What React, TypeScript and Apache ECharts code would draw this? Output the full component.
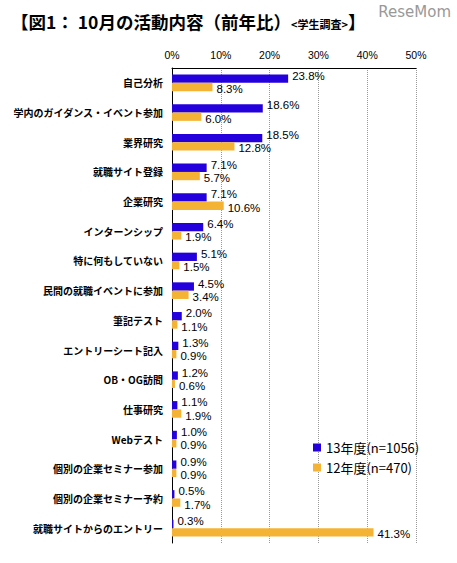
import React, { useRef, useEffect } from 'react';
import * as echarts from 'echarts';

const categories = [
  '自己分析',
  '学内のガイダンス・イベント参加',
  '業界研究',
  '就職サイト登録',
  '企業研究',
  'インターンシップ',
  '特に何もしていない',
  '民間の就職イベントに参加',
  '筆記テスト',
  'エントリーシート記入',
  'OB・OG訪問',
  '仕事研究',
  'Webテスト',
  '個別の企業セミナー参加',
  '個別の企業セミナー予約',
  '就職サイトからのエントリー',
];

const values13 = [23.8, 18.6, 18.5, 7.1, 7.1, 6.4, 5.1, 4.5, 2.0, 1.3, 1.2, 1.1, 1.0, 0.9, 0.5, 0.3];
const values12 = [8.3, 6.0, 12.8, 5.7, 10.6, 1.9, 1.5, 3.4, 1.1, 0.9, 0.6, 1.9, 0.9, 0.9, 1.7, 41.3];

const seriesNames = ['13年度(n=1056)', '12年度(n=470)'];

const FONT = '"Noto Sans CJK JP", "Liberation Sans", sans-serif';

const App: React.FC = () => {
  const chartRef = useRef<HTMLDivElement>(null);

  useEffect(() => {
    document.body.style.margin = '0';
    if (!chartRef.current) return;
    const chart = echarts.init(chartRef.current, undefined, { renderer: 'svg' });

    const option: echarts.EChartsOption = {
      animation: false,
      backgroundColor: '#fff',
      textStyle: { fontFamily: FONT },
      title: {
        text: '{a|【図1： 10月の活動内容（前年比）}{b|<学生調査>}{a|】}',
        left: 6,
        top: 8,
        textStyle: {
          rich: {
            a: { fontSize: 17.5, fontWeight: 'bold', color: '#000', fontFamily: FONT },
            b: { fontSize: 11, fontWeight: 'bold', color: '#000', fontFamily: FONT, padding: [4, 0, 0, 0] },
          },
        },
      },
      graphic: [
        {
          type: 'text',
          right: 6,
          top: 4,
          style: { text: 'ReseMom', fontSize: 15, fill: '#999', fontFamily: '"DejaVu Sans", sans-serif' },
        },
      ],
      legend: {
        orient: 'vertical',
        left: 308,
        top: 436,
        itemWidth: 8,
        itemHeight: 8,
        itemGap: 7,
        icon: 'rect',
        textStyle: { fontSize: 13, color: '#000', fontFamily: FONT },
        data: seriesNames,
      },
      grid: { left: 172, right: 41, top: 68, bottom: 20 },
      xAxis: {
        type: 'value',
        position: 'top',
        min: 0,
        max: 50,
        interval: 10,
        axisLine: { show: true, lineStyle: { color: '#000', width: 1 } },
        axisTick: { show: false },
        axisLabel: { formatter: '{value}%', fontSize: 10.5, color: '#000', margin: 8, fontFamily: '"Liberation Sans", sans-serif' },
        splitLine: { show: true, lineStyle: { color: '#999', type: 'dotted' } },
      },
      yAxis: {
        type: 'category',
        inverse: true,
        data: categories,
        axisLine: { show: true, lineStyle: { color: '#000', width: 1 } },
        axisTick: { show: false },
        axisLabel: { fontSize: 10, color: '#000', margin: 9, fontWeight: 'bold', fontFamily: FONT },
      },
      series: [
        {
          name: seriesNames[0],
          type: 'bar',
          data: values13,
          barGap: '0%',
          barCategoryGap: '44%',
          itemStyle: { color: '#2400dc' },
          label: {
            show: true,
            position: 'right',
            distance: 4,
            offset: [0, -3],
            formatter: (p: any) => p.value.toFixed(1) + '%',
            fontSize: 11.5,
            lineHeight: 12,
            color: '#000',
            fontFamily: '"Liberation Sans", sans-serif',
          },
        },
        {
          name: seriesNames[1],
          type: 'bar',
          data: values12,
          itemStyle: { color: '#f5b335' },
          label: {
            show: true,
            position: 'right',
            distance: 4,
            offset: [0, 2],
            formatter: (p: any) => p.value.toFixed(1) + '%',
            fontSize: 11.5,
            lineHeight: 12,
            color: '#000',
            fontFamily: '"Liberation Sans", sans-serif',
          },
        },
      ],
    };

    chart.setOption(option);
    return () => {
      chart.dispose();
    };
  }, []);

  return <div ref={chartRef} style={{ width: 457, height: 563 }} />;
};

export default App;
